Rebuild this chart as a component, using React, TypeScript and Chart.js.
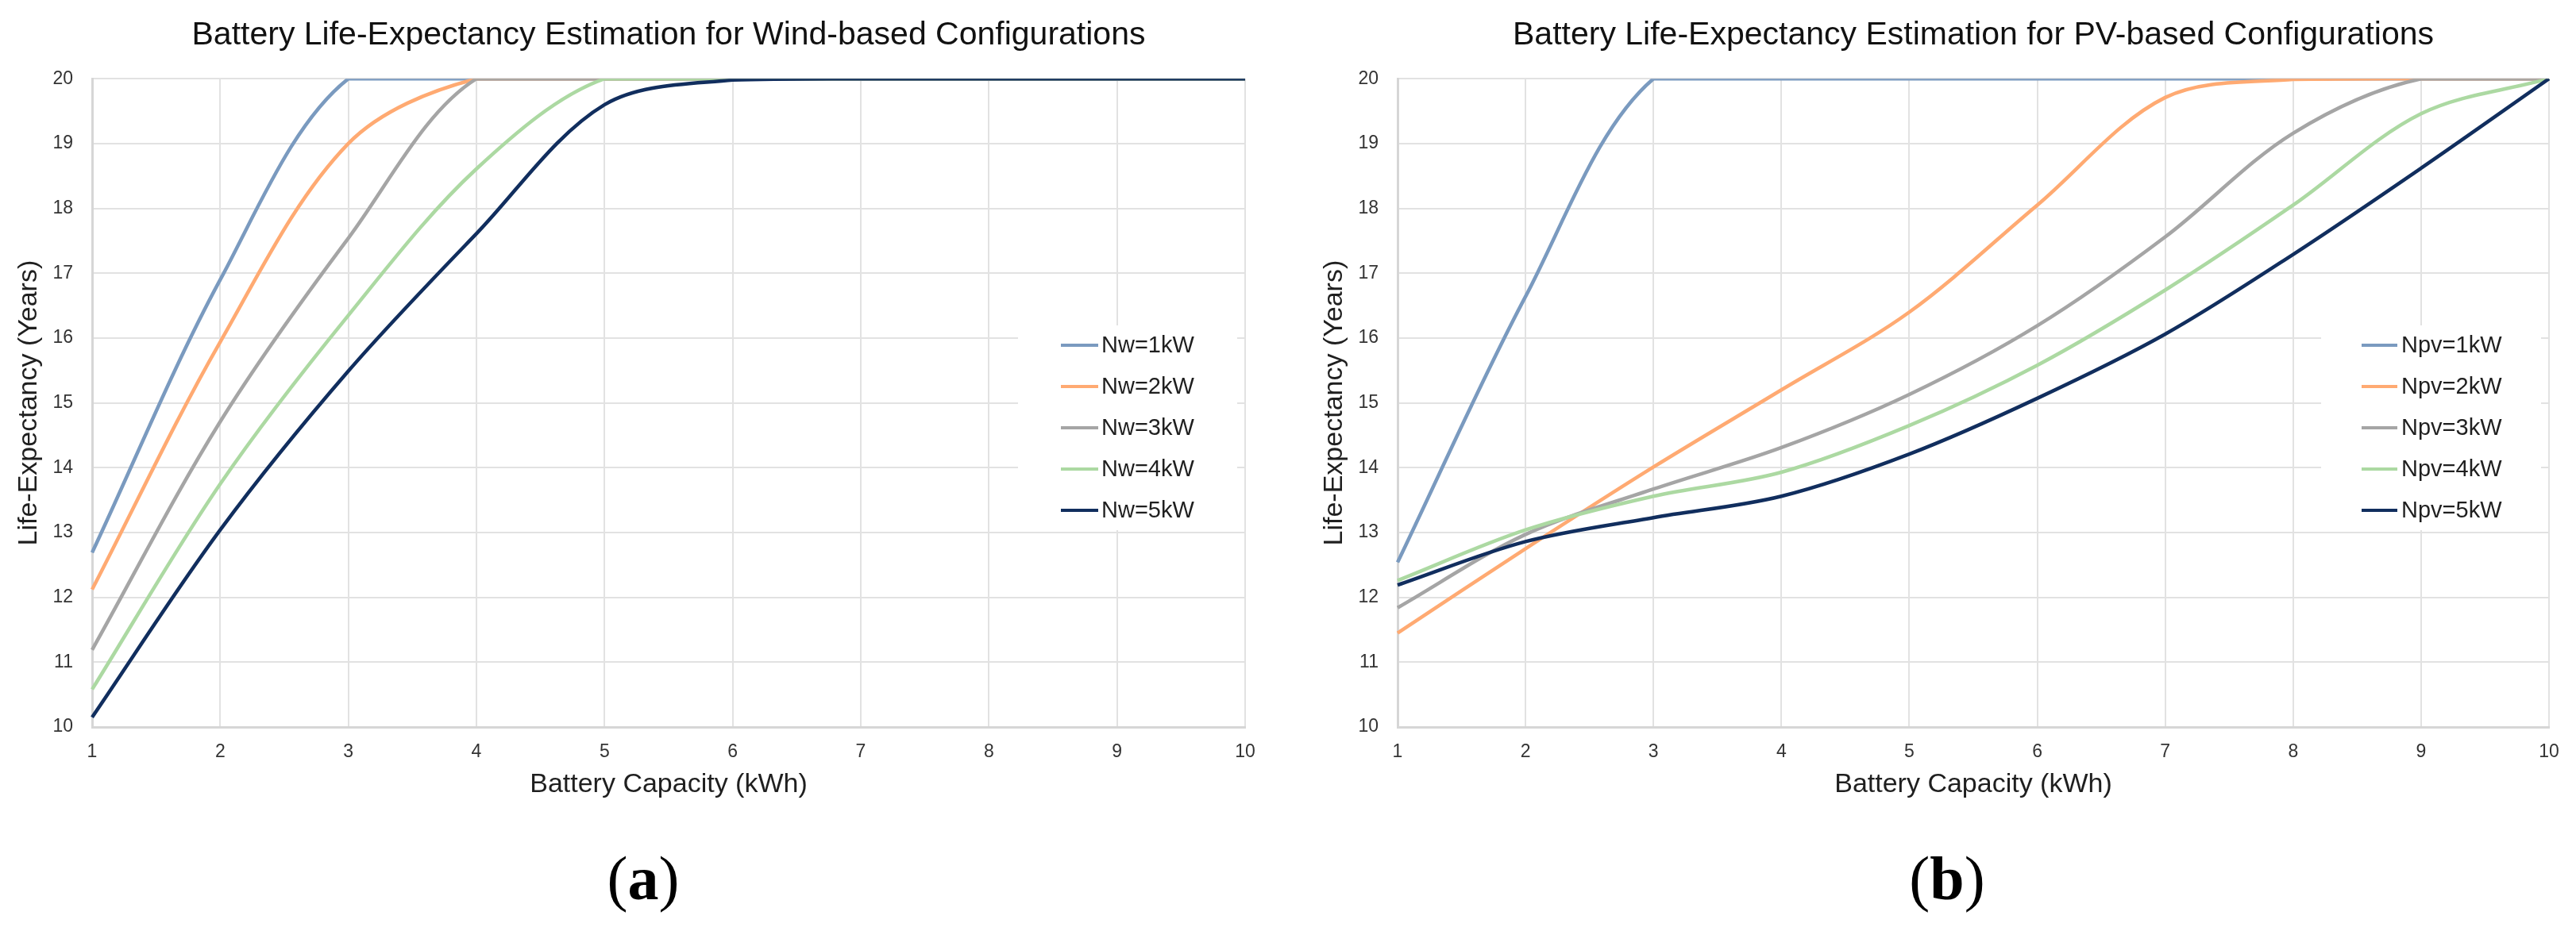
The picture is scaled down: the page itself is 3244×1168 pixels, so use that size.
import React, { useEffect, useRef } from 'react';
import { Chart, registerables } from 'chart.js';

Chart.register(...registerables);

// ---------- data ----------
const capacityLabels = ['1', '2', '3', '4', '5', '6', '7', '8', '9', '10'];
const yMin = 10;
const yMax = 20;
const yStep = 1;

const windTitle = 'Battery Life-Expectancy Estimation for Wind-based Configurations';
const windNames = ['Nw=1kW', 'Nw=2kW', 'Nw=3kW', 'Nw=4kW', 'Nw=5kW'];
const windNw1 = [12.69, 16.9, 20, 20, 20, 20, 20, 20, 20, 20];
const windNw2 = [12.12, 15.94, 19.0, 20, 20, 20, 20, 20, 20, 20];
const windNw3 = [11.19, 14.71, 17.54, 20, 20, 20, 20, 20, 20, 20];
const windNw4 = [10.58, 13.75, 16.35, 18.61, 20, 20, 20, 20, 20, 20];
const windNw5 = [10.15, 13.04, 15.49, 17.61, 19.6, 19.98, 20, 20, 20, 20];

const pvTitle = 'Battery Life-Expectancy Estimation for PV-based Configurations';
const pvNames = ['Npv=1kW', 'Npv=2kW', 'Npv=3kW', 'Npv=4kW', 'Npv=5kW'];
const pvNpv1 = [12.54, 16.64, 20, 20, 20, 20, 20, 20, 20, 20];
const pvNpv2 = [11.45, 12.75, 14.01, 15.2, 16.4, 18.05, 19.71, 19.99, 20, 20];
const pvNpv3 = [11.84, 12.97, 13.67, 14.31, 15.13, 16.19, 17.56, 19.16, 20, 20];
const pvNpv4 = [12.26, 13.04, 13.56, 13.93, 14.65, 15.58, 16.74, 18.05, 19.46, 20];
const pvNpv5 = [12.19, 12.86, 13.23, 13.56, 14.21, 15.07, 16.06, 17.29, 18.62, 20];

const xAxisTitle = 'Battery Capacity (kWh)';
const yAxisTitle = 'Life-Expectancy (Years)';

// ---------- styles ----------
const seriesColors = ['#7a9abf', '#ffaa72', '#a5a5a5', '#acd9a2', '#112e5e'];
const FONT = "'Liberation Sans', Arial, Helvetica, sans-serif";
const TEXT = '#1f1f1f';
const TICK_TEXT = '#333333';
const GRID = '#e2e2e2';
const BORDER = '#d6d6d6';
const CANVAS_W = 1622;
const CANVAS_H = 1040;
const PLOT_TOP_PAD = { top: 20, bottom: 30 };
const PLOT_BOTTOM = 916;

type LegendGeom = {
  x: number; y: number; w: number; h: number;
  firstY: number; step: number; lineX0: number; lineX1: number; textX: number;
};
type Geom = { left: number; right: number; yTitlePad: number; legend: LegendGeom };

const windGeom: Geom = {
  left: 116, right: 1568, yTitlePad: 16.6,
  legend: { x: 1282, y: 410, w: 276, h: 258, firstY: 435, step: 52, lineX0: 1336, lineX1: 1383, textX: 1387 },
};
const pvGeom: Geom = {
  left: 138, right: 1588, yTitlePad: 38.6,
  legend: { x: 1301, y: 410, w: 277, h: 258, firstY: 435, step: 52, lineX0: 1352, lineX1: 1397, textX: 1402 },
};

function makeLegendPlugin(g: LegendGeom) {
  return {
    id: 'insideLegend',
    afterDraw(chart: any) {
      const ctx = chart.ctx as CanvasRenderingContext2D;
      ctx.save();
      ctx.fillStyle = '#ffffff';
      ctx.fillRect(g.x, g.y, g.w, g.h);
      chart.data.datasets.forEach((ds: any, i: number) => {
        const y = g.firstY + i * g.step;
        ctx.strokeStyle = ds.borderColor;
        ctx.lineWidth = 4;
        ctx.lineCap = 'butt';
        ctx.beginPath();
        ctx.moveTo(g.lineX0, y);
        ctx.lineTo(g.lineX1, y);
        ctx.stroke();
        ctx.fillStyle = TEXT;
        ctx.font = `29px ${FONT}`;
        ctx.textAlign = 'left';
        ctx.textBaseline = 'middle';
        ctx.fillText(ds.label, g.textX, y + 1);
      });
      ctx.restore();
    },
  };
}

function buildChart(canvas: HTMLCanvasElement, title: string, names: string[], values: number[][], g: Geom) {
  return new Chart(canvas, {
    type: 'line',
    data: {
      labels: capacityLabels,
      datasets: names.map((n, i) => ({
        label: n,
        data: values[i],
        borderColor: seriesColors[i],
        backgroundColor: seriesColors[i],
        borderWidth: 4.5,
        pointRadius: 0,
        pointHoverRadius: 0,
        tension: 0.33,
        fill: false,
        order: names.length - i,
      })),
    },
    options: {
      responsive: false,
      animation: false,
      devicePixelRatio: 1,
      events: [],
      layout: { padding: { left: 0, right: CANVAS_W - g.right, top: 0, bottom: 0 } },
      plugins: {
        legend: { display: false },
        tooltip: { enabled: false },
        title: {
          display: true,
          text: title,
          fullSize: false,
          color: '#111111',
          font: { family: FONT, size: 41, weight: 'normal' },
          padding: PLOT_TOP_PAD,
        },
      },
      scales: {
        x: {
          type: 'category',
          offset: false,
          grid: { color: GRID, lineWidth: 2, drawTicks: false },
          border: { color: BORDER, width: 3 },
          ticks: { color: TICK_TEXT, font: { family: FONT, size: 23 }, padding: 18, maxRotation: 0, autoSkip: false },
          title: {
            display: true,
            text: xAxisTitle,
            color: TEXT,
            font: { family: FONT, size: 34 },
            padding: { top: 0, bottom: 30.6 },
          },
          afterFit: (s: any) => { s.height = CANVAS_H - PLOT_BOTTOM; },
        },
        y: {
          type: 'linear',
          min: yMin,
          max: yMax,
          grid: { color: GRID, lineWidth: 2, drawTicks: false },
          border: { color: BORDER, width: 3 },
          ticks: { stepSize: yStep, color: TICK_TEXT, font: { family: FONT, size: 23 }, padding: 24 },
          title: {
            display: true,
            text: yAxisTitle,
            color: TEXT,
            font: { family: FONT, size: 34 },
            padding: { top: g.yTitlePad, bottom: 0 },
          },
          afterFit: (s: any) => { s.width = g.left; },
        },
      },
    } as any,
    plugins: [makeLegendPlugin(g.legend)],
  });
}

function LineChartPanel(props: { title: string; names: string[]; values: number[][]; geom: Geom; left: number }) {
  const ref = useRef<HTMLCanvasElement | null>(null);
  useEffect(() => {
    if (!ref.current) return;
    const chart = buildChart(ref.current, props.title, props.names, props.values, props.geom);
    return () => chart.destroy();
  }, []);
  return (
    <canvas
      ref={ref}
      width={CANVAS_W}
      height={CANVAS_H}
      style={{ position: 'absolute', left: props.left, top: 0, width: CANVAS_W, height: CANVAS_H }}
    />
  );
}

const captionStyle = (cx: number): React.CSSProperties => ({
  position: 'absolute',
  left: cx - 100,
  width: 200,
  top: 1068,
  textAlign: 'center',
  fontFamily: "'Liberation Serif', 'Times New Roman', serif",
  fontSize: 78,
  lineHeight: 1,
  color: '#000',
});

export default function App() {
  return (
    <div style={{ position: 'absolute', left: 0, top: 0, width: 3244, height: 1168, background: '#ffffff', overflow: 'hidden' }}>
      <LineChartPanel
        title={windTitle}
        names={windNames}
        values={[windNw1, windNw2, windNw3, windNw4, windNw5]}
        geom={windGeom}
        left={0}
      />
      <LineChartPanel
        title={pvTitle}
        names={pvNames}
        values={[pvNpv1, pvNpv2, pvNpv3, pvNpv4, pvNpv5]}
        geom={pvGeom}
        left={1622}
      />
      <div style={captionStyle(810)}>(<b>a</b>)</div>
      <div style={captionStyle(2452)}>(<b>b</b>)</div>
    </div>
  );
}
